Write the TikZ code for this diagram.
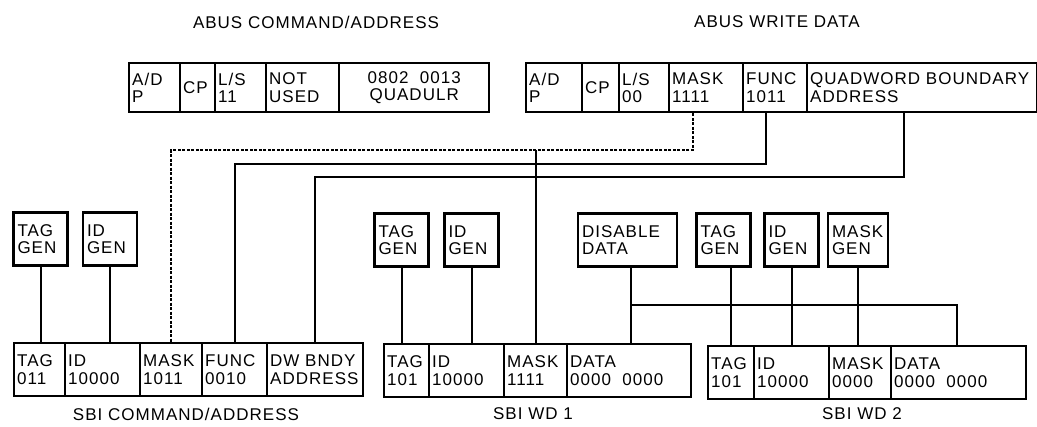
\documentclass[tikz,border=0pt]{standalone}
\usepackage{fontspec}
\setmainfont{Liberation Sans}[LetterSpace=6]
\begin{document}
\begin{tikzpicture}[x=1pt,y=-1pt,
  txt/.style={font=\fontsize{17}{17.5}\selectfont},
  cell/.style={draw, line width=2.4pt, anchor=north west, inner sep=3pt,
    minimum height=#1, align=left, txt},
  cell/.default=49pt,
  gen/.style={draw, line width=2.6pt, minimum width=54pt, minimum height=53pt,
    inner sep=4pt, align=left, txt},
  wire/.style={line width=2pt},
  dwire/.style={line width=2pt, dash pattern=on 3pt off 1.5pt},
  lbl/.style={txt}]
\useasboundingbox (0,0) rectangle (1037,427);

% titles
\node[lbl] (t1) at (316,22) {ABUS COMMAND/ADDRESS};
\node[lbl] (t2) at (777,22) {ABUS WRITE DATA};

% ABUS command/address register
\node[cell, text width=45pt] (a1) at (128,62) {A/D\\P};
\node[cell, text width=29pt] (a2) at (179,62) {CP};
\node[cell, text width=45pt] (a3) at (214,62) {L/S\\11};
\node[cell, text width=67pt] (a4) at (265,62) {NOT\\USED};
\node[cell, text width=144pt, align=center] (a5) at (338,62) {0802\ \ 0013\\QUADULR};

% ABUS write data register
\node[cell, text width=50pt] (w1) at (525,62) {A/D\\P};
\node[cell, text width=31pt] (w2) at (581,62) {CP};
\node[cell, text width=44pt] (w3) at (618,62) {L/S\\00};
\node[cell, text width=68pt] (w4) at (668,62) {MASK\\1111};
\node[cell, text width=58pt] (w5) at (742,62) {FUNC\\1011};
\node[cell, text width=224pt] (w6) at (806,62) {QUADWORD BOUNDARY\\ADDRESS};

% SBI command/address
\node[cell=53pt, text width=45pt] (b1) at (13,342) {TAG\\011};
\node[cell=53pt, text width=69pt] (b2) at (64,342) {ID\\10000};
\node[cell=53pt, text width=56pt] (b3) at (139,342) {MASK\\1011};
\node[cell=53pt, text width=59pt] (b4) at (201,342) {FUNC\\0010};
\node[cell=53pt, text width=90pt] (b5) at (266,342) {DW BNDY\\ADDRESS};
\node[lbl] (l1) at (186,414) {SBI COMMAND/ADDRESS};

% SBI WD 1
\node[cell=53pt, text width=39pt] (c1) at (383,343) {TAG\\101};
\node[cell=53pt, text width=69pt] (c2) at (428,343) {ID\\10000};
\node[cell=53pt, text width=57pt] (c3) at (503,343) {MASK\\1111};
\node[cell=53pt, text width=118pt] (c4) at (566,343) {DATA\\0000\ \ 0000};
\node[lbl] (l2) at (533,414) {SBI WD 1};

% SBI WD 2
\node[cell=53pt, text width=40pt] (d1) at (707,345) {TAG\\101};
\node[cell=53pt, text width=69pt] (d2) at (753,345) {ID\\10000};
\node[cell=53pt, text width=56pt] (d3) at (828,345) {MASK\\0000};
\node[cell=53pt, text width=129pt] (d4) at (890,345) {DATA\\0000\ \ 0000};
\node[lbl] (l3) at (862,414) {SBI WD 2};

% generator boxes
\node[gen, text width=46pt] (g1) at (40.5,239) {TAG\\GEN};
\node[gen, text width=46pt] (g2) at (110,239) {ID\\GEN};
\node[gen, text width=46pt] (g3) at (401.5,240) {TAG\\GEN};
\node[gen, text width=46pt] (g4) at (471.5,240) {ID\\GEN};
\node[gen, minimum width=99pt, text width=91pt] (g5) at (627.5,240) {DISABLE\\DATA};
\node[gen, text width=46pt] (g6) at (723.5,240) {TAG\\GEN};
\node[gen, text width=46pt] (g7) at (791.5,240) {ID\\GEN};
\node[gen, minimum width=60pt, text width=52pt] (g8) at (858,240) {MASK\\GEN};

% routing points
\coordinate (m1) at (693,150);
\coordinate (f1) at (766,164);
\coordinate (q1) at (904,177);
\coordinate (s1) at (631,305);
\coordinate (s2) at (957,305);

% ABUS -> SBI command/address
\draw[dwire] (w4.south -| m1) -- (m1) -| (b3.north);
\draw[wire] (c3.north |- m1) -- (c3.north);
\draw[wire] (w5.south -| f1) -- (f1) -| (b4.north);
\draw[wire] (w6.south -| q1) -- (q1) -| (b5.north);

% generators
\draw[wire] (g1.south) -- (g1.south |- b1.north);
\draw[wire] (g2.south) -- (g2.south |- b2.north);
\draw[wire] (g3.south) -- (g3.south |- c1.north);
\draw[wire] (g4.south) -- (g4.south |- c2.north);
\draw[wire] (g5.south -| s1) -- (s1 |- c4.north);
\draw[wire] (s1) -- (s2) -- (s2 |- d4.north);
\draw[wire] (g6.south -| d1.north) -- (d1.north);
\draw[wire] (g7.south) -- (g7.south |- d2.north);
\draw[wire] (g8.south) -- (g8.south |- d3.north);
\end{tikzpicture}
\end{document}
